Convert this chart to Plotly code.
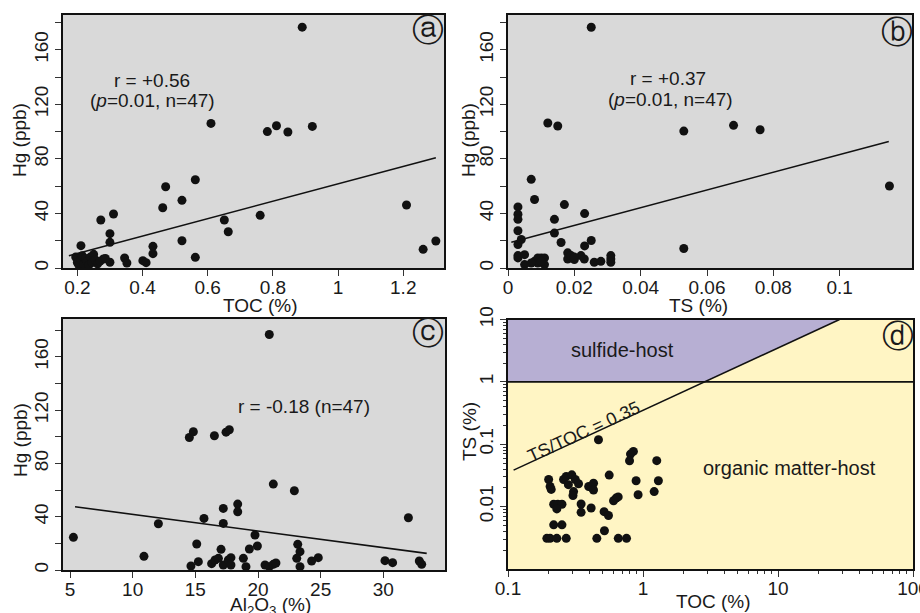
import numpy as np
import plotly.graph_objects as go

W, H = 920, 613

# ---------------- data ----------------
# Panel a: TOC (%) vs Hg (ppb)
toc_a = [0.890, 0.610, 0.783, 0.811, 0.846, 0.921, 1.210, 1.261, 1.300, 0.761,
         0.651, 0.663, 0.562, 0.471, 0.521, 0.462, 0.521, 0.562, 0.432, 0.432,
         0.401, 0.411, 0.345, 0.352, 0.311, 0.272, 0.300, 0.300, 0.300, 0.211,
         0.280, 0.195, 0.200, 0.205, 0.210, 0.215, 0.220, 0.225, 0.230, 0.235,
         0.240, 0.245, 0.250, 0.255, 0.262, 0.270, 0.286]
hg_a = [176.6, 106.0, 100.0, 104.3, 99.7, 103.8, 46.2, 13.7, 19.8, 38.6,
        35.2, 26.6, 64.7, 59.6, 49.6, 44.2, 20.0, 7.8, 15.9, 10.5,
        5.4, 3.9, 7.3, 3.7, 39.6, 35.2, 25.2, 18.8, 4.2, 16.4,
        6.6, 8.0, 4.0, 2.0, 6.5, 9.0, 3.0, 7.0, 5.0, 2.0,
        8.0, 4.0, 10.0, 6.0, 3.0, 5.0, 7.0]
fit_a_x = [0.174, 1.300]
fit_a_y = [9.0, 80.9]

# Panel b: TS (%) vs Hg (ppb)
ts_b = [0.0251, 0.0120, 0.0150, 0.0530, 0.0680, 0.0760, 0.1150, 0.0530, 0.0070, 0.0080,
        0.0170, 0.0231, 0.0140, 0.0140, 0.0160, 0.0251, 0.0231, 0.0030, 0.0030, 0.0030,
        0.0030, 0.0030, 0.0040, 0.0030, 0.0030, 0.0050, 0.0050, 0.0080, 0.0090, 0.0100,
        0.0110, 0.0110, 0.0090, 0.0180, 0.0180, 0.0190, 0.0200, 0.0220, 0.0230, 0.0260,
        0.0280, 0.0310, 0.0310, 0.0310, 0.0100, 0.0200, 0.0070]
hg_b = [176.5, 106.3, 104.1, 100.4, 104.6, 101.4, 60.1, 14.3, 65.0, 50.2,
        46.5, 39.9, 35.7, 25.6, 18.7, 20.2, 16.2, 44.8, 39.4, 35.7,
        27.3, 17.2, 20.9, 9.1, 7.4, 9.8, 2.5, 4.9, 7.4, 7.4,
        7.4, 2.5, 3.7, 11.1, 6.6, 9.1, 6.2, 9.1, 6.6, 4.2,
        4.9, 9.1, 6.6, 4.2, 4.9, 8.0, 3.7]
fit_b_x = [0.001, 0.1148]
fit_b_y = [18.9, 92.8]
ts_ticks = [0, 0.02, 0.04, 0.06, 0.08, 0.1]

# Panel c: Al2O3 (%) vs Hg (ppb)
al_c = [20.90, 14.52, 14.84, 16.52, 17.45, 17.71, 21.22, 22.90, 32.00, 18.38,
        18.38, 17.23, 15.69, 17.23, 12.05, 5.27, 19.76, 15.11, 23.17, 23.35,
        19.95, 19.31, 17.05, 10.90, 23.09, 24.81, 24.28, 30.13, 30.74, 32.87,
        33.06, 15.24, 14.65, 16.30, 16.57, 16.84, 17.23, 17.63, 17.84, 17.84,
        18.83, 19.04, 20.56, 20.90, 21.22, 21.43, 23.35]
hg_c = [176.75, 99.5, 103.75, 100.75, 103.5, 105.25, 64.5, 59.5, 39.25, 49.5,
        43.75, 46.25, 38.75, 35.0, 34.75, 24.5, 26.25, 19.5, 19.25, 13.75,
        18.0, 15.75, 15.5, 10.25, 8.75, 9.25, 6.75, 7.0, 5.5, 6.75,
        4.25, 6.25, 3.0, 4.75, 7.5, 8.75, 3.75, 7.5, 9.25, 3.75,
        8.75, 2.5, 3.75, 2.5, 4.25, 5.25, 2.5]
fit_c_x = [5.4, 33.46]
fit_c_y = [47.5, 12.5]

# Panel d: TOC (%) vs TS (%) (log-log)
toc_d = [0.468, 0.849, 0.808, 0.795, 1.264, 1.300, 0.889, 0.920, 1.210, 0.562,
         0.200, 0.205, 0.209, 0.218, 0.234, 0.251, 0.230, 0.258, 0.270, 0.297,
         0.280, 0.315, 0.333, 0.306, 0.303, 0.348, 0.348, 0.413, 0.396, 0.417,
         0.430, 0.430, 0.515, 0.555, 0.605, 0.632, 0.655, 0.518, 0.455, 0.656,
         0.755, 0.194, 0.205, 0.230, 0.270, 0.218, 0.251]
ts_d = [0.118, 0.0767, 0.0695, 0.0543, 0.0546, 0.026, 0.026, 0.0155, 0.0174, 0.032,
        0.0272, 0.021, 0.0189, 0.0109, 0.0109, 0.0109, 0.0092, 0.0272, 0.0305, 0.0323,
        0.0225, 0.0272, 0.0233, 0.0174, 0.0151, 0.011, 0.0081, 0.0095, 0.021, 0.0202,
        0.0237, 0.0185, 0.0083, 0.0072, 0.0124, 0.0137, 0.0143, 0.0041, 0.0031, 0.0031,
        0.0031, 0.0031, 0.0031, 0.0031, 0.0031, 0.0051, 0.0051]
ratio = 0.35          # TS/TOC boundary
ts_limit = 1.0        # TS boundary
ratio_toc_start = 0.11
d_x_range = [0.1, 100]
d_y_range = [0.001, 10]

y_ticks_hg = [0, 40, 80, 120, 160]

# ---------------- styling ----------------
FONT = "Liberation Sans, Arial, sans-serif"
TXT = "#1a1a1a"
GRAY_BG = "#d9d9d9"
PURPLE = "#b7afd3"
YELLOW = "#fff5c4"
MS = 9


def px_x(p):
    return p / W


def px_y(p):
    return 1 - p / H


domains = {
    "a": ([px_x(63), px_x(444)], [px_y(268), px_y(15)]),
    "b": ([px_x(508), px_x(912)], [px_y(268), px_y(15)]),
    "c": ([px_x(63), px_x(445)], [px_y(570), px_y(318.5)]),
    "d": ([px_x(508), px_x(913)], [px_y(569), px_y(319.5)]),
}

fig = go.Figure()

dot = dict(color="#111111", size=MS, line=dict(width=0))
line_st = dict(color="#111111", width=1.6)

# panel a
fig.add_trace(go.Scatter(x=toc_a, y=hg_a, mode="markers", marker=dot, xaxis="x", yaxis="y"))
fig.add_trace(go.Scatter(x=fit_a_x, y=fit_a_y, mode="lines", line=line_st, xaxis="x", yaxis="y"))
# panel b
fig.add_trace(go.Scatter(x=ts_b, y=hg_b, mode="markers", marker=dot, xaxis="x2", yaxis="y2"))
fig.add_trace(go.Scatter(x=fit_b_x, y=fit_b_y, mode="lines", line=line_st, xaxis="x2", yaxis="y2"))
# panel c
fig.add_trace(go.Scatter(x=al_c, y=hg_c, mode="markers", marker=dot, xaxis="x3", yaxis="y3"))
fig.add_trace(go.Scatter(x=fit_c_x, y=fit_c_y, mode="lines", line=line_st, xaxis="x3", yaxis="y3"))

# panel d: sulfide-host region
cross_toc = ts_limit / ratio
top_toc = d_y_range[1] / ratio
poly_x = [d_x_range[0], cross_toc, top_toc, d_x_range[0], d_x_range[0]]
poly_y = [ts_limit, ts_limit, d_y_range[1], d_y_range[1], ts_limit]
fig.add_trace(go.Scatter(x=poly_x, y=poly_y, mode="lines", fill="toself",
                         fillcolor=PURPLE, line=dict(width=0), xaxis="x4", yaxis="y4"))
fig.add_trace(go.Scatter(x=d_x_range, y=[ts_limit, ts_limit], mode="lines",
                         line=line_st, xaxis="x4", yaxis="y4"))
fig.add_trace(go.Scatter(x=[ratio_toc_start, top_toc],
                         y=[ratio_toc_start * ratio, top_toc * ratio], mode="lines",
                         line=line_st, xaxis="x4", yaxis="y4"))
fig.add_trace(go.Scatter(x=toc_d, y=ts_d, mode="markers", marker=dot, xaxis="x4", yaxis="y4"))

tickfont = dict(family=FONT, size=19, color=TXT)
common = dict(showline=True, linecolor="#111111", linewidth=1.5, mirror=True,
              ticks="outside", ticklen=6, tickwidth=1.3, tickcolor="#333333",
              showgrid=False, zeroline=False, tickfont=tickfont, automargin=False,
              ticklabeloverflow="allow")
xstand = dict(ticklabelstandoff=-5)

fig.update_layout(
    width=W, height=H, margin=dict(l=0, r=0, t=0, b=0, autoexpand=False),
    paper_bgcolor="white", showlegend=False,
    xaxis=dict(domain=domains["a"][0], anchor="y", range=[0.156, 1.325],
               tick0=0.2, dtick=0.2, **xstand, **common),
    yaxis=dict(domain=domains["a"][1], anchor="x", range=[0, 185.5],
               tickvals=y_ticks_hg, tickangle=-90,
               minor=dict(dtick=20, ticks="outside", ticklen=6, tickcolor="#333333"), **common),
    xaxis2=dict(domain=domains["b"][0], anchor="y2", range=[0, 0.1218],
                tickvals=ts_ticks, ticktext=[("%g" % v) for v in ts_ticks], **xstand, **common),
    yaxis2=dict(domain=domains["b"][1], anchor="x2", range=[0, 185.5],
                tickvals=y_ticks_hg, tickangle=-90,
                minor=dict(dtick=20, ticks="outside", ticklen=6, tickcolor="#333333"), **common),
    xaxis3=dict(domain=domains["c"][0], anchor="y3", range=[4.44, 34.92],
                tick0=5, dtick=5, **xstand, **common),
    yaxis3=dict(domain=domains["c"][1], anchor="x3", range=[0, 188.8],
                tickvals=y_ticks_hg, tickangle=-90,
                minor=dict(dtick=20, ticks="outside", ticklen=6, tickcolor="#333333"), **common),
    xaxis4=dict(domain=domains["d"][0], anchor="y4", type="log",
                range=[np.log10(d_x_range[0]), np.log10(d_x_range[1])],
                tickvals=[0.1, 1, 10, 100], ticktext=["0.1", "1", "10", "100"],
                minor=dict(tickvals=[m * 10.0 ** e for e in range(-1, 2) for m in range(2, 10)],
                           ticks="outside", ticklen=3, tickcolor="#333333"), **xstand, **common),
    yaxis4=dict(domain=domains["d"][1], anchor="x4", type="log",
                range=[np.log10(d_y_range[0]), np.log10(d_y_range[1])],
                tickvals=[0.01, 0.1, 1, 10], ticktext=["0.01", "0.1", "1", "10"],
                tickangle=-90,
                minor=dict(tickvals=[m * 10.0 ** e for e in range(-3, 1) for m in range(2, 10)],
                           ticks="outside", ticklen=3, tickcolor="#333333"), **common),
    plot_bgcolor=GRAY_BG,
)

# backgrounds per panel (paper shapes below traces)
for key, col in [("a", GRAY_BG), ("b", GRAY_BG), ("c", GRAY_BG), ("d", YELLOW)]:
    xd, yd = domains[key]
    fig.add_shape(type="rect", xref="paper", yref="paper", x0=xd[0], x1=xd[1],
                  y0=yd[0], y1=yd[1], fillcolor=col, line=dict(width=0), layer="below")

ann = []


def txt(text, xp, yp, size=19, angle=0, family=FONT):
    ann.append(dict(text=text, x=px_x(xp), y=px_y(yp), xref="paper", yref="paper",
                    showarrow=False, textangle=angle,
                    font=dict(family=family, size=size, color=TXT),
                    xanchor="center", yanchor="middle"))


# axis titles
txt("Hg (ppb)", 20, 140, 19, -90)
txt("TOC (%)", 260, 305, 19)
txt("Hg (ppb)", 469, 140, 19, -90)
txt("TS (%)", 698, 305, 19)
txt("Hg (ppb)", 20, 440, 19, -90)
txt("Al<sub>2</sub>O<sub>3</sub> (%)", 270, 606, 19)
txt("TS (%)", 469, 432, 19, -90)
txt("TOC (%)", 713, 601, 19)

# stats
txt("r = +0.56", 152, 80, 19)
txt("(<i>p</i>=0.01, n=47)", 152, 101, 19)
txt("r = +0.37", 668, 78, 19)
txt("(<i>p</i>=0.01, n=47)", 670, 100, 19)
txt("r = -0.18 (n=47)", 304, 406, 19)

# panel d labels
txt("sulfide-host", 622, 350, 20)
txt("organic matter-host", 789, 468, 20)
ann.append(dict(text="TS/TOC = 0.35", x=np.log10(0.36), y=np.log10(0.16), xref="x4", yref="y4",
                showarrow=False, textangle=-24.8,
                font=dict(family=FONT, size=18, color=TXT),
                xanchor="center", yanchor="middle"))

# circled panel letters
CIRC = "DejaVu Sans, sans-serif"
txt("ⓐ", 428, 30, 32, family=CIRC)
txt("ⓑ", 897, 32, 32, family=CIRC)
txt("ⓒ", 428, 333, 32, family=CIRC)
txt("ⓓ", 898, 336, 32, family=CIRC)

fig.update_layout(annotations=ann)
fig.write_html("out.html", config={"displayModeBar": False},
               post_script="document.body.style.margin='0px';document.body.style.overflow='hidden';")
